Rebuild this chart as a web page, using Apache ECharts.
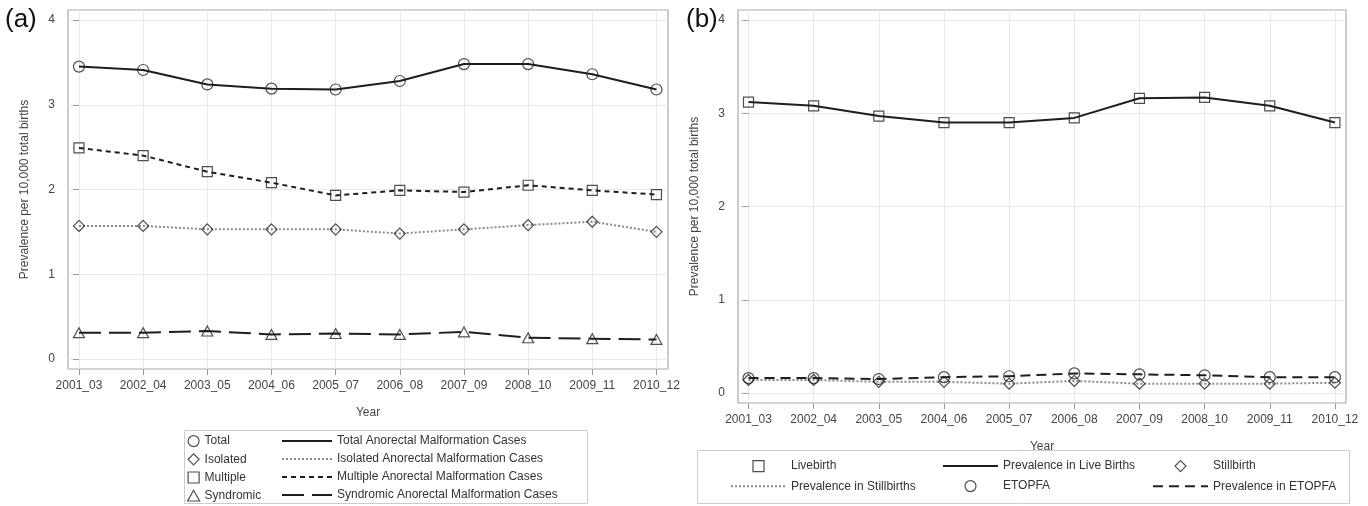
<!DOCTYPE html>
<html>
<head>
<meta charset="utf-8">
<script src="https://cdn.jsdelivr.net/npm/echarts@6/dist/echarts.min.js"></script>
<style>
  html, body { margin: 0; padding: 0; background: #fff; }
  #chart { width: 1368px; height: 506px; }
</style>
</head>
<body>
<div id="chart"></div>
<script>
// period labels on the x axis (shared by both panels)
var years = ['2001_03', '2002_04', '2003_05', '2004_06', '2005_07',
             '2006_08', '2007_09', '2008_10', '2009_11', '2010_12'];
var yTicks = [0, 1, 2, 3, 4];

// panel (a) - prevalence per 10,000 total births by case type
var total     = [3.45, 3.41, 3.24, 3.19, 3.18, 3.28, 3.48, 3.48, 3.36, 3.18];
var isolated  = [1.57, 1.57, 1.53, 1.53, 1.53, 1.48, 1.53, 1.58, 1.62, 1.50];
var multiple  = [2.49, 2.40, 2.21, 2.08, 1.93, 1.99, 1.97, 2.05, 1.99, 1.94];
var syndromic = [0.31, 0.31, 0.33, 0.29, 0.30, 0.29, 0.32, 0.25, 0.24, 0.23];

// panel (b) - prevalence by pregnancy outcome
var livebirth  = [3.12, 3.08, 2.97, 2.90, 2.90, 2.95, 3.16, 3.17, 3.08, 2.90];
var stillbirth = [0.14, 0.14, 0.12, 0.12, 0.10, 0.13, 0.10, 0.10, 0.10, 0.11];
var etopfa     = [0.16, 0.16, 0.15, 0.17, 0.18, 0.21, 0.20, 0.19, 0.17, 0.17];

function pairs(arr) {
    return arr.map(function (v, i) { return [i, v]; });
}

// hollow marker shapes (paths so the legend keeps their aspect)
var SQUARE = 'path://M0,0L10,0L10,10L0,10Z';
var DIAMOND = 'path://M5,0L10,5L5,10L0,5Z';
var TRIANGLE = 'path://M5,0L10,9L0,9Z';

var FONT = 'Liberation Sans';
var axisText = { color: '#444', fontSize: 12, fontFamily: FONT };

function xAxisFor(grid, min, max) {
    return {
        gridIndex: grid,
        type: 'value',
        min: min,
        max: max,
        name: 'Year',
        nameLocation: 'middle',
        nameGap: 38,
        nameTextStyle: axisText,
        axisLine: { show: false, onZero: false },
        axisTick: { show: true, length: 6, customValues: [0, 1, 2, 3, 4, 5, 6, 7, 8, 9],
                    lineStyle: { color: '#999' } },
        axisLabel: Object.assign({ margin: 11, customValues: [0, 1, 2, 3, 4, 5, 6, 7, 8, 9],
                    formatter: function (v) { return years[Math.round(v)]; } }, axisText),
        splitLine: { show: true, lineStyle: { color: '#e8e8e8', width: 1 } }
    };
}

function yAxisFor(grid, min, max) {
    return {
        gridIndex: grid,
        type: 'value',
        min: min,
        max: max,
        name: 'Prevalence per 10,000 total births',
        nameLocation: 'middle',
        nameGap: 37,
        nameTextStyle: axisText,
        axisLine: { show: false },
        axisTick: { show: true, length: 6, customValues: yTicks, lineStyle: { color: '#999' } },
        axisLabel: Object.assign({ margin: 13, customValues: yTicks }, axisText),
        splitLine: { show: true, lineStyle: { color: '#e8e8e8', width: 1 } }
    };
}

function lineSeries(name, grid, data, color, type) {
    return {
        name: name,
        type: 'line',
        xAxisIndex: grid, yAxisIndex: grid,
        data: pairs(data),
        symbol: 'none',
        lineStyle: { color: color, width: 2, type: type },
        itemStyle: { color: color },
        z: 2
    };
}

function markerSeries(name, grid, data, symbol, size) {
    return {
        name: name,
        type: 'scatter',
        xAxisIndex: grid, yAxisIndex: grid,
        data: pairs(data),
        symbol: symbol,
        symbolSize: size,
        symbolKeepAspect: true,
        itemStyle: { color: 'rgba(255,255,255,0)', borderColor: '#222', borderWidth: 1.2 },
        z: 3
    };
}

// legend entry that shows only the line sample
function lineItem(name) {
    return { name: name, itemStyle: { opacity: 0 } };
}

var legendBase = {
    orient: 'vertical',
    itemHeight: 11,
    itemGap: 6,
    padding: 0,
    symbolKeepAspect: true,
    textStyle: { color: '#333', fontSize: 12, fontFamily: FONT },
    itemStyle: { borderWidth: 1.2 },
    selectedMode: false
};

var chart = echarts.init(document.getElementById('chart'), null, { renderer: 'canvas' });
var option = {
    animation: false,
    backgroundColor: '#fff',
    title: [
        { text: '(a)', left: 0, top: 2, textStyle: { fontSize: 26, fontWeight: 'normal', color: '#111', fontFamily: FONT } },
        { text: '(b)', left: 681, top: 2, textStyle: { fontSize: 26, fontWeight: 'normal', color: '#111', fontFamily: FONT } }
    ],
    grid: [
        { left: 68, top: 10, width: 600, height: 359, show: true, borderColor: '#aaa', borderWidth: 1.2 },
        { left: 738, top: 10, width: 608, height: 393, show: true, borderColor: '#aaa', borderWidth: 1.2 }
    ],
    xAxis: [xAxisFor(0, -0.171, 9.18), xAxisFor(1, -0.161, 9.17)],
    yAxis: [yAxisFor(0, -0.118, 4.118), yAxisFor(1, -0.107, 4.107)],
    legend: [
        Object.assign({}, legendBase, { left: 187, top: 435, itemWidth: 12,
            data: ['Total', 'Isolated', 'Multiple', 'Syndromic'] }),
        Object.assign({}, legendBase, { left: 281, top: 435, itemWidth: 50,
            data: [lineItem('Total Anorectal Malformation Cases'), lineItem('Isolated Anorectal Malformation Cases'),
                   lineItem('Multiple Anorectal Malformation Cases'), lineItem('Syndromic Anorectal Malformation Cases')] }),
        Object.assign({}, legendBase, { left: 730, top: 460, itemWidth: 55, itemGap: 8,
            data: ['Livebirth', lineItem('Prevalence in Stillbirths')] }),
        Object.assign({}, legendBase, { left: 942, top: 460, itemWidth: 55, itemGap: 8,
            data: [lineItem('Prevalence in Live Births'), 'ETOPFA'] }),
        Object.assign({}, legendBase, { left: 1152, top: 460, itemWidth: 55, itemGap: 8,
            data: ['Stillbirth', lineItem('Prevalence in ETOPFA')] })
    ],
    graphic: [
        { type: 'rect', shape: { x: 184.5, y: 430.5, width: 403, height: 73 },
          style: { fill: 'none', stroke: '#ccc', lineWidth: 1 } },
        { type: 'rect', shape: { x: 697.5, y: 450.5, width: 652, height: 53 },
          style: { fill: 'none', stroke: '#ccc', lineWidth: 1 } }
    ],
    series: [
        lineSeries('Total Anorectal Malformation Cases', 0, total, '#1e1e1e', 'solid'),
        lineSeries('Isolated Anorectal Malformation Cases', 0, isolated, '#8a8a8a', 'dotted'),
        lineSeries('Multiple Anorectal Malformation Cases', 0, multiple, '#1e1e1e', [5, 4]),
        lineSeries('Syndromic Anorectal Malformation Cases', 0, syndromic, '#1e1e1e', [22, 8]),
        markerSeries('Total', 0, total, 'circle', 11),
        markerSeries('Isolated', 0, isolated, DIAMOND, 11),
        markerSeries('Multiple', 0, multiple, SQUARE, 10),
        markerSeries('Syndromic', 0, syndromic, TRIANGLE, 11),

        lineSeries('Prevalence in Live Births', 1, livebirth, '#1e1e1e', 'solid'),
        lineSeries('Prevalence in Stillbirths', 1, stillbirth, '#8a8a8a', 'dotted'),
        lineSeries('Prevalence in ETOPFA', 1, etopfa, '#1e1e1e', [10, 6]),
        markerSeries('Livebirth', 1, livebirth, SQUARE, 10),
        markerSeries('Stillbirth', 1, stillbirth, DIAMOND, 11),
        markerSeries('ETOPFA', 1, etopfa, 'circle', 11)
    ]
};
chart.setOption(option);
</script>
</body>
</html>
